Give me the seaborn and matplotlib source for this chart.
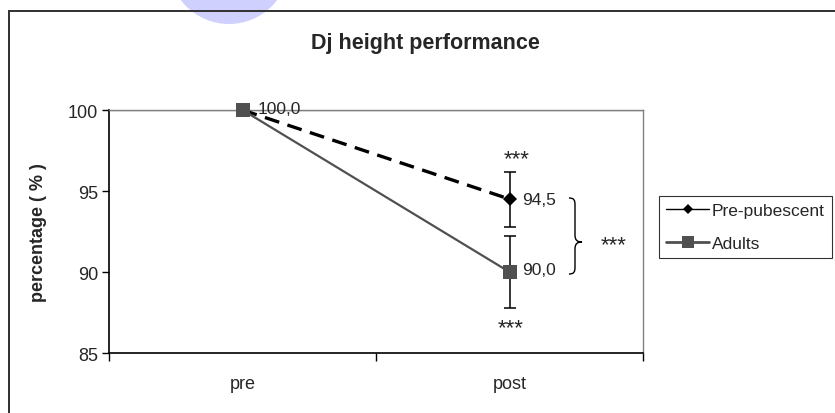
import matplotlib
matplotlib.use("Agg")
import matplotlib.pyplot as plt
from matplotlib.lines import Line2D
from matplotlib.path import Path
from matplotlib.patches import PathPatch, Rectangle, Circle
import seaborn as sns
import pandas as pd

# ---- data ----
phases = ["pre", "post"]
groups = ["Pre-pubescent", "Adults"]
prepub_values = [100.0, 94.5]
adult_values = [100.0, 90.0]
prepub_err = [0.0, 1.7]
adult_err = [0.0, 2.25]
value_labels = ["100,0", "94,5", "90,0"]
yticks = [85, 90, 95, 100]
title = "Dj height performance"
ylabel = "percentage ( % )"

sns.set_style("white")
plt.rcParams["font.family"] = ["Liberation Sans", "DejaVu Sans"]

df = pd.DataFrame({
    "phase": phases * 2,
    "value": prepub_values + adult_values,
    "group": [groups[0]] * 2 + [groups[1]] * 2,
})

W, H = 835, 414
fig = plt.figure(figsize=(W / 100, H / 100), dpi=100)
ax = fig.add_axes([109 / W, 1 - 354 / H, (643 - 109) / W, (354 - 111) / H])

# background decorations
fig.patches.append(Circle((2.29, (H + 35.5) / 100), 0.605, transform=fig.dpi_scale_trans,
                          facecolor="#d0d0ff", edgecolor="none", zorder=-1))
fig.patches.append(Rectangle((0.09, -0.2), 8.6, (H - 12) / 100 + 0.2, transform=fig.dpi_scale_trans,
                             facecolor="none", edgecolor="#303030", linewidth=1.4, zorder=0))

sns.lineplot(data=df, x="phase", y="value", hue="group", style="group", size="group",
             sizes={groups[0]: 2.4, groups[1]: 1.6},
             palette={groups[0]: "black", groups[1]: "#505050"},
             markers={groups[0]: "D", groups[1]: "s"},
             dashes={groups[0]: (4.5, 2.6), groups[1]: ""},
             markersize=10, markeredgewidth=0, sort=False, legend=False, ax=ax)
marker_sizes = {"D": 7.4, "s": 10.6}
for i, ln in enumerate(ax.lines):
    ln.set_clip_on(False)
    ln.set_zorder(3 + i)
    ln.set_markersize(marker_sizes.get(ln.get_marker(), 10))

# error bars (after lineplot so category order is kept)
ax.errorbar(x=phases[1:], y=prepub_values[1:], yerr=prepub_err[1:], fmt="none",
            ecolor="black", elinewidth=1.1, capsize=4, capthick=1.1, zorder=2)
ax.errorbar(x=phases[1:], y=adult_values[1:], yerr=adult_err[1:], fmt="none",
            ecolor="black", elinewidth=1.1, capsize=4, capthick=1.1, zorder=2)

ax.set_ylim(85, 100)
ax.set_xlim(-0.5, 1.5)
ax.set_yticks(yticks)
ax.set_yticklabels([str(t) for t in yticks], fontsize=13)
ax.set_xticks([-0.5, 0.5, 1.5])
ax.set_xticklabels(["", "", ""])
ax.set_xticks([0, 1], minor=True)
ax.set_xticklabels(phases, minor=True, fontsize=13)
ax.tick_params(axis="x", which="major", direction="out", length=6, width=1, color="black", bottom=True)
ax.tick_params(axis="x", which="minor", length=0, pad=16)
ax.tick_params(axis="y", direction="out", length=5, width=1, color="black", left=True, pad=3)
ax.set_xlabel("")
ax.set_ylabel(ylabel, fontsize=13, fontweight="bold", labelpad=15)
ax.axhline(100, color="#808080", linewidth=1, zorder=1)
for s in ["left", "bottom"]:
    ax.spines[s].set_color("black")
    ax.spines[s].set_linewidth(1.2)
for s in ["top", "right"]:
    ax.spines[s].set_color("#808080")
    ax.spines[s].set_linewidth(1)
ax.grid(False)

fig.text(425 / W, 1 - 43 / H, title, ha="center", va="center", fontsize=15.5, fontweight="bold")

# value labels
ax.annotate(value_labels[0], (phases[0], adult_values[0]), xytext=(11, 1), textcoords="offset points",
            ha="left", va="center", fontsize=12.5, zorder=10)
ax.annotate(value_labels[1], (phases[1], prepub_values[1]), xytext=(9, 0), textcoords="offset points",
            ha="left", va="center", fontsize=12.5)
ax.annotate(value_labels[2], (phases[1], adult_values[1]), xytext=(9, 2), textcoords="offset points",
            ha="left", va="center", fontsize=12.5)
# significance stars
ax.annotate("***", (phases[1], prepub_values[1] + prepub_err[1]), xytext=(5, 9), textcoords="offset points",
            ha="center", va="center", fontsize=16)
ax.annotate("***", (phases[1], adult_values[1] - adult_err[1]), xytext=(1, -14), textcoords="offset points",
            ha="center", va="center", fontsize=16)

# curly brace
def px(x, y):
    return (x / W, 1 - y / H)

pts = [(569, 199), (574, 199), (575, 201), (575, 206), (575, 236),
       (575, 241), (577, 243), (582, 243), (577, 243), (575, 245), (575, 250),
       (575, 268), (575, 273), (574, 275), (569, 275)]
codes = [Path.MOVETO, Path.CURVE4, Path.CURVE4, Path.CURVE4, Path.LINETO,
         Path.CURVE4, Path.CURVE4, Path.CURVE4, Path.CURVE4, Path.CURVE4, Path.CURVE4,
         Path.LINETO, Path.CURVE4, Path.CURVE4, Path.CURVE4]
fig.patches.append(PathPatch(Path([px(*p) for p in pts], codes), transform=fig.transFigure,
                             facecolor="none", edgecolor="black", linewidth=1))
fig.text(614 / W, 1 - 246 / H, "***", ha="center", va="center", fontsize=16)

# legend
handles = [
    Line2D([0], [0], color="black", lw=1, marker="D", markersize=5.5, markeredgewidth=0),
    Line2D([0], [0], color="#505050", lw=2, marker="s", markersize=8, markeredgewidth=0),
]
leg = fig.legend(handles, groups, loc="upper left", bbox_to_anchor=(659 / W, 1 - 197 / H),
                 fontsize=12.5, frameon=True, fancybox=False, handlelength=2.5, handletextpad=0.15,
                 borderpad=0.4, labelspacing=1.05, borderaxespad=0)
leg.get_frame().set_edgecolor("black")
leg.get_frame().set_linewidth(0.8)

fig.savefig("out.png", dpi=100)
